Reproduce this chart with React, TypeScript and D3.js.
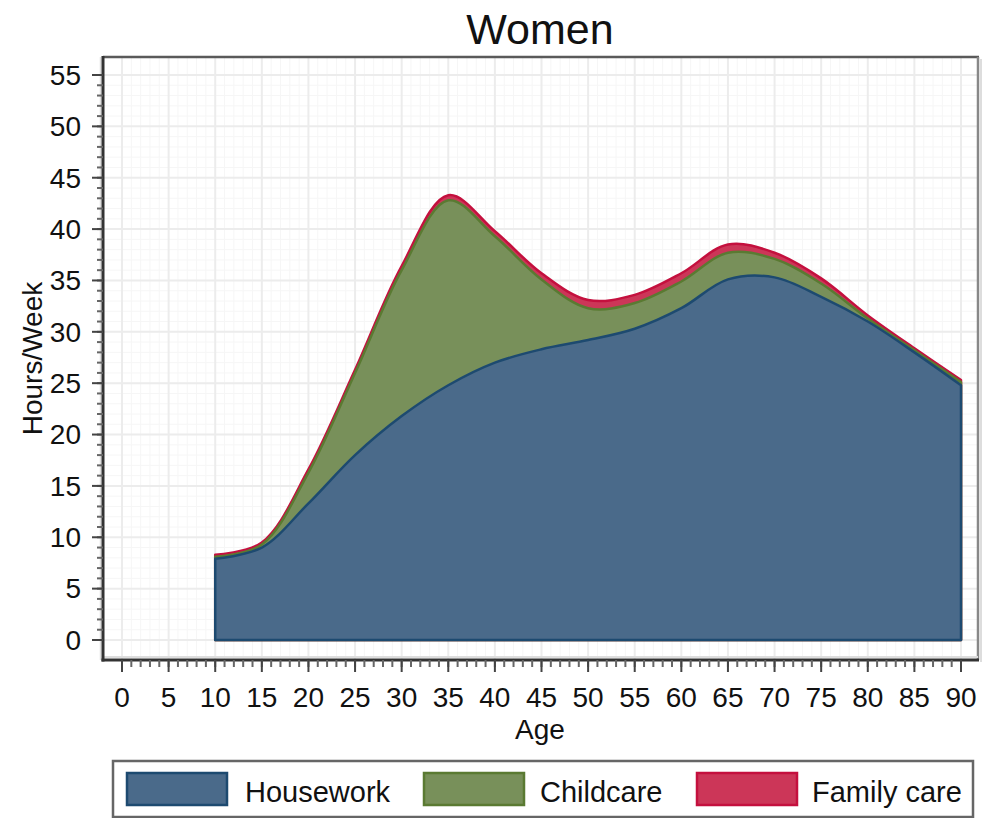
import React from 'react';
import * as d3 from 'd3';

const ages = [10, 15, 20, 25, 30, 35, 40, 45, 50, 55, 60, 65, 70, 75, 80, 85, 90];
const housework = [7.9, 9.0, 13.3, 18.0, 21.8, 24.8, 27.0, 28.3, 29.2, 30.3, 32.3, 35.1, 35.3, 33.4, 31.0, 28.0, 24.8];
const childcare = [0.2, 0.3, 3.0, 8.0, 14.2, 18.0, 12.3, 6.8, 3.1, 2.5, 2.6, 2.6, 1.8, 1.3, 0.3, 0.2, 0.3];
const familycare = [0.2, 0.2, 0.3, 0.3, 0.4, 0.5, 0.5, 0.6, 0.8, 0.8, 0.8, 0.8, 0.6, 0.5, 0.3, 0.2, 0.2];

const xTicks = d3.range(0, 91, 5);
const yTicks = d3.range(0, 56, 5);
const xMinor = d3.range(0, 91, 1);
const yMinor = d3.range(0, 56, 1);

const seriesNames = ['Housework', 'Childcare', 'Family care'];
const fills = ['#4a6a8a', '#78905a', '#cc3658'];
const strokes = ['#1d4a70', '#5a7a32', '#c4103e'];

const W = 991;
const H = 818;
const FONT = '"Liberation Sans", Arial, sans-serif';

export default function App() {
  const x = d3.scaleLinear().domain([0, 90]).range([122, 961]);
  const y = d3.scaleLinear().domain([0, 55]).range([640, 75]);

  const cum1 = housework;
  const cum2 = housework.map((v, i) => v + childcare[i]);
  const cum3 = cum2.map((v, i) => v + familycare[i]);
  const layers = [cum1, cum2, cum3];

  const area = d3
    .area<[number, number]>()
    .x((d) => x(d[0]))
    .y0(y(0))
    .y1((d) => y(d[1]))
    .curve(d3.curveCatmullRom.alpha(0.5));

  const plotL = 103;
  const plotR = 978;
  const plotT = 57;
  const plotB = 660;

  const legendItems = [
    { sx: 127, tx: 245 },
    { sx: 424, tx: 540 },
    { sx: 697, tx: 812 },
  ];

  return (
    <svg width={W} height={H} style={{ position: 'absolute', left: 0, top: 0, display: 'block', background: '#fff' }}>
      {/* title */}
      <text x={540} y={44} textAnchor="middle" fontFamily={FONT} fontSize={43} fill="#111">
        Women
      </text>

      {/* plot background grid */}
      <rect x={plotL} y={plotT} width={plotR - plotL} height={plotB - plotT} fill="#fff" />
      {xMinor.map((t) => (
        <line key={'gxm' + t} x1={x(t)} x2={x(t)} y1={plotT} y2={plotB} stroke="#f6f6f6" strokeWidth={1} />
      ))}
      {yMinor.map((t) => (
        <line key={'gym' + t} x1={plotL} x2={plotR} y1={y(t)} y2={y(t)} stroke="#f6f6f6" strokeWidth={1} />
      ))}
      {xTicks.map((t) => (
        <line key={'gx' + t} x1={x(t)} x2={x(t)} y1={plotT} y2={plotB} stroke="#ececec" strokeWidth={2} />
      ))}
      {yTicks.map((t) => (
        <line key={'gy' + t} x1={plotL} x2={plotR} y1={y(t)} y2={y(t)} stroke="#ececec" strokeWidth={2} />
      ))}

      {/* areas: draw totals first so lower layers overlay */}
      {[2, 1, 0].map((k) => {
        const pts = ages.map((a, i) => [a, layers[k][i]] as [number, number]);
        return (
          <path
            key={'area' + k}
            d={area(pts) || ''}
            fill={fills[k]}
            stroke={strokes[k]}
            strokeWidth={2.5}
            strokeLinejoin="round"
          />
        );
      })}

      {/* frame: top & right */}
      <line x1={plotL} x2={plotR + 1} y1={plotT} y2={plotT} stroke="#5a5a5a" strokeWidth={2.5} />
      <line x1={plotR} x2={plotR} y1={plotT} y2={plotB} stroke="#888" strokeWidth={2.5} />
      <line x1={plotR + 3} x2={plotR + 3} y1={plotT + 2} y2={plotB + 2} stroke="#ddd" strokeWidth={2} />
      <line x1={plotL + 1} x2={plotR} y1={plotB - 3} y2={plotB - 3} stroke="#ddd" strokeWidth={2} />
      <line x1={plotL - 2.5} x2={plotL - 2.5} y1={plotT} y2={plotB} stroke="#ddd" strokeWidth={1.5} />

      {/* y axis */}
      <line x1={plotL} x2={plotL} y1={plotT - 1} y2={plotB + 1.5} stroke="#333" strokeWidth={3} />
      {yMinor.map((t) => (
        <line key={'ytm' + t} x1={plotL - 6} x2={plotL} y1={y(t)} y2={y(t)} stroke="#666" strokeWidth={2} />
      ))}
      {yTicks.map((t) => (
        <g key={'yt' + t}>
          <line x1={plotL - 11} x2={plotL} y1={y(t)} y2={y(t)} stroke="#444" strokeWidth={2} />
          <text x={81} y={y(t)} dy="0.35em" textAnchor="end" fontFamily={FONT} fontSize={28} fill="#111">
            {t}
          </text>
        </g>
      ))}

      {/* x axis */}
      <line x1={plotL - 1.5} x2={plotR + 1} y1={plotB} y2={plotB} stroke="#333" strokeWidth={3} />
      {xMinor.map((t) => (
        <line key={'xtm' + t} x1={x(t)} x2={x(t)} y1={plotB} y2={plotB + 7} stroke="#666" strokeWidth={2} />
      ))}
      {xTicks.map((t) => (
        <g key={'xt' + t}>
          <line x1={x(t)} x2={x(t)} y1={plotB} y2={plotB + 12} stroke="#444" strokeWidth={2} />
          <text x={x(t)} y={707} textAnchor="middle" fontFamily={FONT} fontSize={28} fill="#111">
            {t}
          </text>
        </g>
      ))}

      {/* axis titles */}
      <text x={540} y={739} textAnchor="middle" fontFamily={FONT} fontSize={28} fill="#111">
        Age
      </text>
      <text
        transform={`translate(42, ${(plotT + plotB) / 2}) rotate(-90)`}
        textAnchor="middle"
        fontFamily={FONT}
        fontSize={28}
        fill="#111"
      >
        Hours/Week
      </text>

      {/* legend */}
      <rect x={113} y={761} width={860} height={56} fill="#fff" stroke="#666" strokeWidth={2.5} />
      {legendItems.map((it, k) => (
        <g key={'lg' + k}>
          <rect x={it.sx} y={773} width={100} height={32} fill={fills[k]} stroke={strokes[k]} strokeWidth={2.5} />
          <text x={it.tx} y={802} fontFamily={FONT} fontSize={29} fill="#111">
            {seriesNames[k]}
          </text>
        </g>
      ))}
    </svg>
  );
}
